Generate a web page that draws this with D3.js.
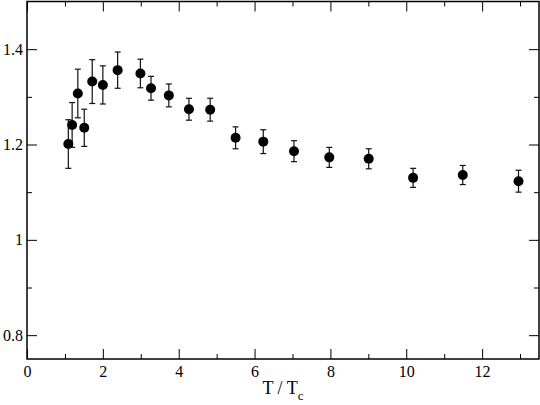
<!DOCTYPE html>
<meta charset="utf-8">
<style>
  body { margin: 0; background: #fff; }
</style>
<body>
  <svg width="540" height="405"></svg>
</body>
<script src="https://cdnjs.cloudflare.com/ajax/libs/d3/7.8.5/d3.min.js"></script>
<script>

  // data
  var tValues = [1.09, 1.19, 1.34, 1.51, 1.72, 2.0, 2.39, 2.99, 3.27, 3.74,
                 4.27, 4.83, 5.5, 6.23, 7.04, 7.97, 9.01, 10.18, 11.49, 12.96];
  var yValues = [1.201, 1.241, 1.307, 1.235, 1.332, 1.325, 1.356, 1.349, 1.318, 1.303,
                 1.274, 1.273, 1.214, 1.206, 1.186, 1.173, 1.170, 1.130, 1.136, 1.123];
  var yErrors = [0.051, 0.047, 0.051, 0.039, 0.046, 0.040, 0.038, 0.030, 0.025, 0.024,
                 0.023, 0.024, 0.023, 0.025, 0.022, 0.021, 0.021, 0.020, 0.020, 0.023];

  var xMajorTicks = [0, 2, 4, 6, 8, 10, 12];
  var xMinorTicks = [1, 3, 5, 7, 9, 11, 13];
  var yMajorTicks = [0.8, 1.0, 1.2, 1.4];
  var yMinorTicks = [0.9, 1.1, 1.3];

  var serif = "'Liberation Serif', 'Times New Roman', serif";

  var svg = d3.select("svg");

  // plot box (note: "top" is taken by window.top, so use other names)
  var pLeft = 27, pRight = 539, pTop = 1.5, pBottom = 359;

  var x = d3.scaleLinear().domain([0, 13.5]).range([pLeft, pRight]);
  var y = d3.scaleLinear().domain([0.75, 1.5]).range([pBottom, pTop]);

  var points = tValues.map(function(t, i) {
    return { t: t, v: yValues[i], e: yErrors[i] };
  });

  // ticks, all pointing inward, on all four sides
  function tickAxis(axisFn, scale, ticks, size, pos, withLabels) {
    var a = axisFn(scale)
      .tickValues(ticks)
      .tickSizeInner(-size)
      .tickSizeOuter(0)
      .tickPadding(6)
      .tickFormat(withLabels ? d3.format("") : "");
    var g = svg.append("g").attr("transform", pos).call(a);
    g.attr("font-family", serif).attr("font-size", 16);
    g.select(".domain").remove();
    g.selectAll("line").attr("stroke", "#000").attr("stroke-width", 1);
    g.selectAll("text").attr("fill", "#000");
    return g;
  }

  var gx = tickAxis(d3.axisBottom, x, xMajorTicks, 10, "translate(0," + pBottom + ")", true);
  gx.selectAll("text").attr("y", 7);
  tickAxis(d3.axisBottom, x, xMinorTicks, 5, "translate(0," + pBottom + ")", false);
  tickAxis(d3.axisTop, x, xMajorTicks, 10, "translate(0," + pTop + ")", false);
  tickAxis(d3.axisTop, x, xMinorTicks, 5, "translate(0," + pTop + ")", false);

  var gy = tickAxis(d3.axisLeft, y, yMajorTicks, 10, "translate(" + pLeft + ",0)", true);
  gy.selectAll("text").attr("x", -4);
  tickAxis(d3.axisLeft, y, yMinorTicks, 5, "translate(" + pLeft + ",0)", false);
  tickAxis(d3.axisRight, y, yMajorTicks, 10, "translate(" + pRight + ",0)", false);
  tickAxis(d3.axisRight, y, yMinorTicks, 5, "translate(" + pRight + ",0)", false);

  // frame
  svg.append("rect")
    .attr("x", pLeft)
    .attr("y", pTop)
    .attr("width", pRight - pLeft)
    .attr("height", pBottom - pTop)
    .attr("fill", "none")
    .attr("stroke", "#000")
    .attr("stroke-width", 1.5);

  // error bars
  var capW = 3;
  var bars = svg.append("g").attr("class", "errorbars")
    .selectAll("g")
    .data(points)
    .enter()
    .append("g");

  bars.append("line")
    .attr("x1", d => x(d.t)).attr("x2", d => x(d.t))
    .attr("y1", d => y(d.v - d.e)).attr("y2", d => y(d.v + d.e));
  bars.append("line")
    .attr("x1", d => x(d.t) - capW).attr("x2", d => x(d.t) + capW)
    .attr("y1", d => y(d.v + d.e)).attr("y2", d => y(d.v + d.e));
  bars.append("line")
    .attr("x1", d => x(d.t) - capW).attr("x2", d => x(d.t) + capW)
    .attr("y1", d => y(d.v - d.e)).attr("y2", d => y(d.v - d.e));
  bars.selectAll("line").attr("stroke", "#111").attr("stroke-width", 1.2);

  // markers
  svg.append("g").attr("class", "points")
    .selectAll("circle")
    .data(points)
    .enter()
    .append("circle")
    .attr("cx", d => x(d.t))
    .attr("cy", d => y(d.v))
    .attr("r", 5)
    .attr("fill", "#000");

  // axis title T / Tc
  var title = svg.append("text")
    .attr("x", (pLeft + pRight) / 2)
    .attr("y", 394)
    .attr("text-anchor", "middle")
    .attr("font-family", serif)
    .attr("font-size", 18)
    .attr("fill", "#000");
  title.append("tspan").text("T / T");
  title.append("tspan")
    .attr("dy", 6)
    .attr("font-size", 13)
    .text("c");

</script>
